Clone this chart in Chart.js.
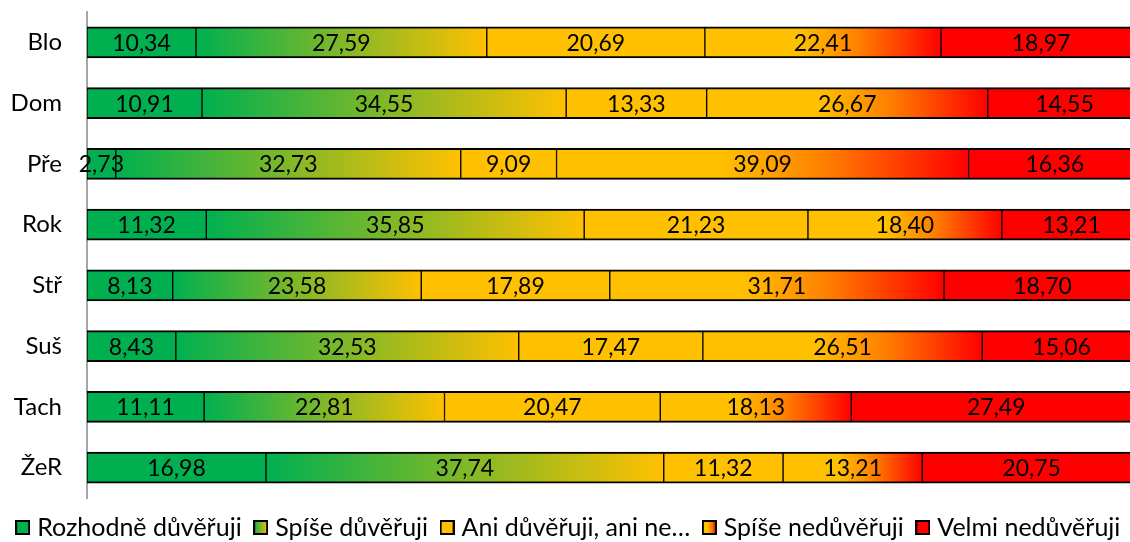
<!DOCTYPE html>
<html>
<head>
<meta charset="utf-8">
<script src="https://cdn.jsdelivr.net/npm/chart.js@4/dist/chart.umd.min.js"></script>
<style>
    html, body { margin: 0; padding: 0; background: #fff; overflow: hidden; }
    #wrap { width: 1145px; height: 542px; }
</style>
</head>
<body>
<div id="wrap"><canvas id="chart1"></canvas></div>
<script>
var categories = ["Blo", "Dom", "Pře", "Rok", "Stř", "Suš", "Tach", "ŽeR"];
var seriesNames = ["Rozhodně důvěřuji", "Spíše důvěřuji", "Ani důvěřuji, ani nedůvěřuji", "Spíše nedůvěřuji", "Velmi nedůvěřuji"];

var rozhodneDuveruji = [10.34, 10.91, 2.73, 11.32, 8.13, 8.43, 11.11, 16.98];
var spiseDuveruji = [27.59, 34.55, 32.73, 35.85, 23.58, 32.53, 22.81, 37.74];
var aniAni = [20.69, 13.33, 9.09, 21.23, 17.89, 17.47, 20.47, 11.32];
var spiseNeduveruji = [22.41, 26.67, 39.09, 18.40, 31.71, 26.51, 18.13, 13.21];
var velmiNeduveruji = [18.97, 14.55, 16.36, 13.21, 18.70, 15.06, 27.49, 20.75];

var allSeries = [rozhodneDuveruji, spiseDuveruji, aniAni, spiseNeduveruji, velmiNeduveruji];

var GREEN = "#00b050";
var YELLOW = "#ffc000";
var RED = "#ff0000";
var FONT = "Lato";

// colour stops for each series (one stop = plain colour)
var fills = [
    [[0, GREEN]],
    [[0, GREEN], [1, YELLOW]],
    [[0, YELLOW]],
    [[0, YELLOW], [0.4, YELLOW], [0.65, "#ff8000"], [1, RED]],
    [[0, RED]]
];

function makeGradient(ctx, x0, x1, stops) {
    if (stops.length == 1) return stops[0][1];
    var g = ctx.createLinearGradient(x0, 0, x1, 0);
    for (var i = 0; i < stops.length; i++) {
        g.addColorStop(stops[i][0], stops[i][1]);
    }
    return g;
}

function segmentFill(context) {
    var stops = fills[context.datasetIndex];
    var chart = context.chart;
    if (context.type !== "data" || !chart.chartArea || !chart.scales.x) return stops[stops.length - 1][1];
    var start = 0;
    for (var s = 0; s < context.datasetIndex; s++) {
        start += allSeries[s][context.dataIndex];
    }
    var end = start + allSeries[context.datasetIndex][context.dataIndex];
    var x0 = chart.scales.x.getPixelForValue(start);
    var x1 = chart.scales.x.getPixelForValue(end);
    return makeGradient(chart.ctx, x0, x1, stops);
}

// little canvases used as legend boxes
function legendBox(stops) {
    var c = document.createElement("canvas");
    c.width = 15;
    c.height = 15;
    var g = c.getContext("2d");
    g.fillStyle = makeGradient(g, 0, 15, stops);
    g.fillRect(0, 0, 15, 15);
    g.strokeStyle = "#000";
    g.lineWidth = 2;
    g.strokeRect(1, 1, 13, 13);
    return c;
}

function shortName(name) {
    return name.length > 20 ? name.substring(0, 20) + "…" : name;
}

var valueLabels = {
    id: "valueLabels",
    afterDatasetsDraw: function(chart) {
        var ctx = chart.ctx;
        ctx.save();
        ctx.font = "23px " + FONT;
        ctx.fillStyle = "#000";
        ctx.textAlign = "center";
        ctx.textBaseline = "middle";
        chart.data.datasets.forEach(function(ds, i) {
            var meta = chart.getDatasetMeta(i);
            meta.data.forEach(function(bar, j) {
                var text = ds.data[j].toFixed(2).replace(".", ",");
                ctx.fillText(text, (bar.x + bar.base) / 2, bar.y + 1);
            });
        });
        ctx.restore();
    }
};

var datasets = [];
for (var i = 0; i < allSeries.length; i++) {
    datasets.push({
        label: seriesNames[i],
        data: allSeries[i],
        backgroundColor: segmentFill,
        borderColor: "#000",
        borderWidth: { top: 2, bottom: 2, left: 1, right: 1 },
        borderSkipped: false,
        barThickness: 31
    });
}

var config = {
    type: "bar",
    plugins: [valueLabels],
    data: {
        labels: categories,
        datasets: datasets
    },
    options: {
        indexAxis: "y",
        responsive: true,
        maintainAspectRatio: false,
        animation: false,
        layout: {
            padding: { top: 12, right: 4, left: 0, bottom: -8 }
        },
        scales: {
            x: {
                stacked: true,
                display: false,
                min: 0,
                max: 100
            },
            y: {
                stacked: true,
                grid: { display: false, drawTicks: false },
                border: { display: true, color: "#a6a6a6", width: 2 },
                ticks: {
                    color: "#000",
                    padding: 25,
                    font: { family: FONT, size: 24 }
                },
                afterFit: function(scale) {
                    scale.width = 87;
                    // the label padding should not push the plot down
                    scale.paddingTop = 0;
                    scale.paddingBottom = 0;
                }
            }
        },
        plugins: {
            tooltip: { enabled: false },
            legend: {
                position: "bottom",
                labels: {
                    color: "#000",
                    font: { family: FONT, size: 25, lineHeight: 1.45 },
                    usePointStyle: true,
                    pointStyleWidth: 4,
                    padding: 17,
                    generateLabels: function(chart) {
                        return chart.data.datasets.map(function(ds, i) {
                            return {
                                text: shortName(ds.label),
                                pointStyle: legendBox(fills[i]),
                                fillStyle: "#000",
                                strokeStyle: "#000",
                                lineWidth: 0,
                                hidden: false,
                                datasetIndex: i
                            };
                        });
                    }
                }
            }
        }
    }
};

var ctx = document.getElementById("chart1").getContext("2d");
window.myBar = new Chart(ctx, config);
</script>
</body>
</html>
